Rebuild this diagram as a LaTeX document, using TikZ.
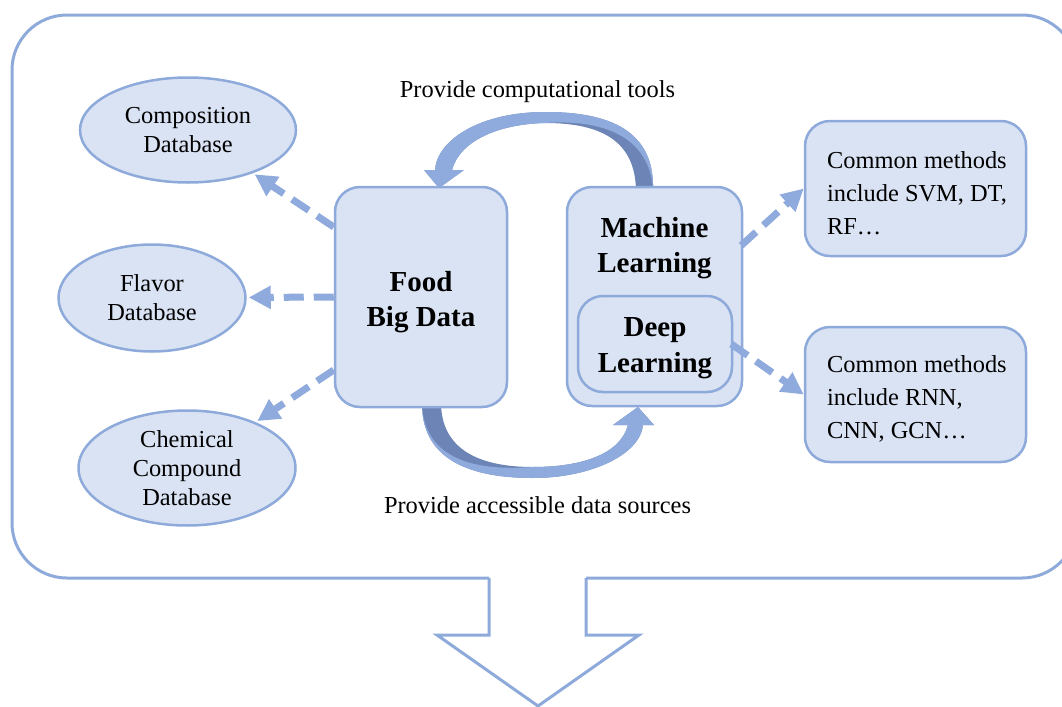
\documentclass[tikz,border=0pt]{standalone}
\usepackage{fontspec}
\setmainfont{Liberation Serif}
\usetikzlibrary{arrows.meta,calc,shapes.geometric}
\definecolor{bline}{HTML}{8EAADB}
\definecolor{bfill}{HTML}{DAE3F3}
\definecolor{adark}{HTML}{6C85B6}
\definecolor{alight}{HTML}{8FAADC}
\begin{document}
\begin{tikzpicture}[x=0.5pt,y=-0.5pt,
  db/.style={ellipse, draw=bline, fill=bfill, line width=1.25pt, inner sep=0pt, align=center,
    font=\rmfamily\fontsize{12.2}{14.6}\selectfont},
  rbox/.style={rectangle, rounded corners=12.5pt, draw=bline, fill=bfill, line width=1.25pt, inner sep=0pt},
  mtext/.style={align=left, font=\rmfamily\fontsize{12.2}{16.5}\selectfont},
  btext/.style={align=center, font=\rmfamily\fontsize{14.5}{17.8}\selectfont\bfseries},
  lbl/.style={font=\rmfamily\fontsize{12.2}{14.6}\selectfont},
  darr/.style={draw=alight, line width=3.5pt, dash pattern=on 10pt off 5pt,
    -{Triangle[length=11pt,width=11pt]}},
  frame/.style={draw=bline, line width=1.5pt, line cap=square}
]
\useasboundingbox (0,0) rectangle (1062,707);

% outer frame and big down arrow
\draw[frame, rounded corners=27.5pt] (489,578) -- (12,578) -- (12,15) -- (1077,15) -- (1077,578) -- (586,578);
\draw[frame, line join=miter] (489,578) -- (489,635) -- (437,635) -- (538,706) -- (639,635) -- (586,635) -- (586,578);

% top curved arrow (ML -> Food)
\fill[adark] (653,190) .. controls (655,125) and (600,112) .. (545,112)
  .. controls (480,112) and (437,140) .. (435,170) -- (424,170) -- (439,188) -- (464,170) -- (452,170)
  .. controls (460,140) and (500,124) .. (545,123) .. controls (600,123) and (635,140) .. (636,190) -- cycle;
\fill[alight] (653,190) .. controls (655,125) and (600,112) .. (545,112)
  .. controls (480,112) and (437,140) .. (435,170) -- (424,170) -- (439,188) -- (464,170) -- (452,170)
  .. controls (460,140) and (500,124) .. (545,123) .. controls (600,119) and (650,135) .. (653,190) -- cycle;

% bottom curved arrow (Food -> ML)
\fill[adark] (422,404) .. controls (422,465) and (480,478) .. (533,478)
  .. controls (590,478) and (640,455) .. (643,425) -- (654,425) -- (638,407) -- (613,425) -- (628,425)
  .. controls (620,455) and (580,467) .. (533,467) .. controls (480,467) and (442,450) .. (441,404) -- cycle;
\fill[alight] (422,404) .. controls (422,465) and (480,478) .. (533,478)
  .. controls (590,478) and (640,455) .. (643,425) -- (654,425) -- (638,407) -- (613,425) -- (628,425)
  .. controls (620,455) and (580,467) .. (533,467) .. controls (480,471) and (424,462) .. (422,404) -- cycle;

% labels
\node[lbl] (ltop) at (537.5,92) {Provide computational tools};
\node[lbl] (lbot) at (537.5,505) {Provide accessible data sources};

% databases
\node[db, minimum width=108pt, minimum height=52.5pt] (comp) at (188,130) {Composition\\Database};
\node[db, minimum width=93.5pt, minimum height=53.5pt] (flav) at (152,298) {Flavor\\Database};
\node[db, minimum width=108.5pt, minimum height=57.5pt] (chem) at (187,468) {Chemical\\Compound\\Database};

% central boxes
\node[rbox, minimum width=86pt, minimum height=110pt] (food) at (421,297) {};
\node[btext] (foodt) at (421,302) {Food\\Big Data};
\node[rbox, minimum width=87.5pt, minimum height=109.5pt] (ml) at (654.5,296.5) {};
\node[btext] (mlt) at (654.5,248) {Machine\\Learning};
\node[rbox, minimum width=77pt, minimum height=48pt] (dl) at (655,344) {};
\node[btext] (dlt) at (655,348) {Deep\\Learning};

% right boxes
\node[rbox, minimum width=110.5pt, minimum height=67.5pt] (rt1) at (915.5,188.5) {};
\node[mtext, anchor=west] (rt1t) at (820,193) {Common methods\\include SVM, DT,\\RF…};
\node[rbox, minimum width=110.5pt, minimum height=67.5pt] (rt2) at (915.5,394.5) {};
\node[mtext, anchor=west] (rt2t) at (820,399) {Common methods\\include RNN,\\CNN, GCN…};

% dashed arrows
\draw[darr, shorten >=1pt] ($(food.west)+(0,-70)$) -- (comp);
\draw[darr, shorten >=1pt] (food.west) -- (flav);
\draw[darr, shorten >=1pt] ($(food.west)+(0,73)$) -- (chem);
\draw[darr] ($(ml.east)+(-2,-51)$) -- (rt1.west);
\draw[darr] ($(dl.east)+(-2,0)$) -- (rt2.west);
\end{tikzpicture}
\end{document}
